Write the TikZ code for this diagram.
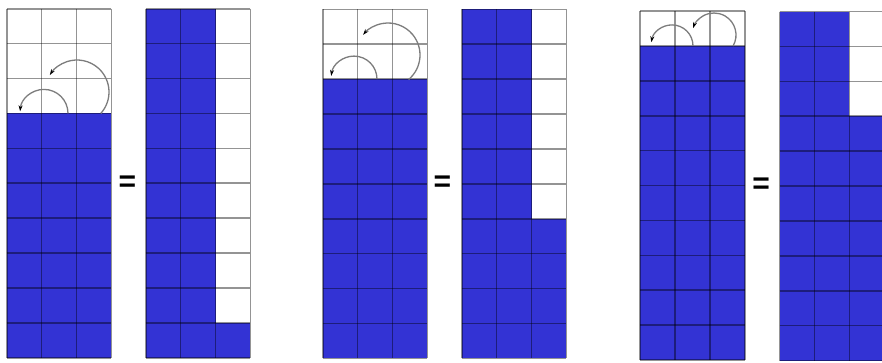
\documentclass[tikz,border=0pt]{standalone}
\usepackage{fontspec}
\setmainfont{Liberation Sans}
\usetikzlibrary{arrows.meta}
\definecolor{cellblue}{RGB}{51,51,212}
\definecolor{arcgray}{RGB}{125,125,125}
\tikzset{
  gridline/.style={draw=black, draw opacity=0.42, line width=1.6pt},
  bluefill/.style={fill=cellblue},
  turnarc/.style={draw=arcgray, line width=1.3pt, -{Stealth[length=6pt,width=4pt,color=black]}},
  eqsign/.style={inner sep=0pt, font=\fontsize{30}{30}\selectfont\bfseries},
}
\newcommand\drawgrid[2]{%
  \foreach \i in {0,...,3} \draw[gridline] (#1+\i*34.9,#2) -- (#1+\i*34.9,#2+349);
  \foreach \j in {0,...,10} \draw[gridline] (#1,#2+\j*34.9) -- (#1+104.7,#2+\j*34.9);
}
\begin{document}
\begin{tikzpicture}[x=1pt,y=-1pt]
\useasboundingbox (0,0) rectangle (882,362);
\clip (0,0) rectangle (882,362);
% grid 1
\fill[bluefill] (6.7,113.4) rectangle (111.4,357.7);
\drawgrid{6.7}{8.7}
% grid 2
\fill[bluefill] (145.7,8.7) rectangle (215.5,357.7);
\fill[bluefill] (215.5,322.8) rectangle (250.4,357.7);
\drawgrid{145.7}{8.7}
% grid 3
\fill[bluefill] (322.7,79.1) rectangle (427.4,358.3);
\drawgrid{322.7}{9.3}
% grid 4
\fill[bluefill] (461.7,9.3) rectangle (531.5,358.3);
\fill[bluefill] (531.5,218.7) rectangle (566.4,358.3);
\drawgrid{461.7}{9.3}
% grid 5
\fill[bluefill] (640,45.9) rectangle (744.7,360);
\drawgrid{640}{11}
% grid 6
\fill[bluefill] (779.5,11.5) rectangle (849.3,361);
\fill[bluefill] (849.3,116.2) rectangle (884.2,361);
\drawgrid{779.5}{11.5}
% arcs
\draw[turnarc] (44,113.4) ++(0:24) arc[start angle=0,end angle=-175,radius=24];
\draw[turnarc] (77,92) ++(42:32) arc[start angle=42,end angle=-148,radius=32];
\draw[turnarc] (354,79.1) ++(0:23) arc[start angle=0,end angle=-172,radius=23];
\draw[turnarc] (388,55) ++(50:32) arc[start angle=50,end angle=-141,radius=32];
\draw[turnarc] (672,45.9) ++(0:21) arc[start angle=0,end angle=-170,radius=21];
\draw[turnarc] (714,35) ++(30:22) arc[start angle=30,end angle=-162,radius=22];
% equal signs
\node[eqsign] (e1) at (127.3,184) {=};
\node[eqsign] (e2) at (442.5,184) {=};
\node[eqsign] (e3) at (761,185.5) {=};
\end{tikzpicture}
\end{document}
